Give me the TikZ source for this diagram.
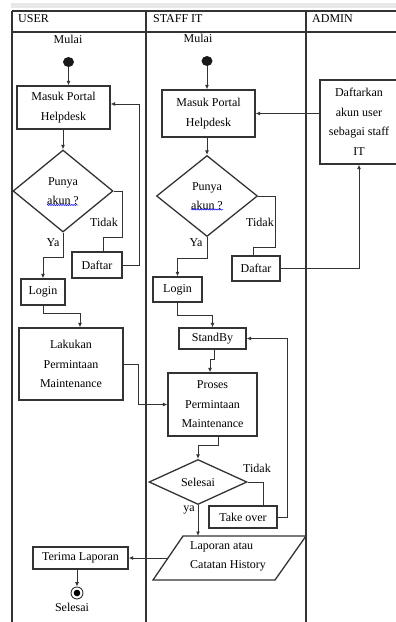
\documentclass[tikz,border=0pt]{standalone}
\usepackage{fontspec}
\setmainfont{Liberation Serif}
\usetikzlibrary{shapes.geometric,arrows.meta,decorations.pathmorphing,calc}
\definecolor{ink}{HTML}{333333}
\begin{document}
\begin{tikzpicture}[x=1pt,y=-1pt,
  every node/.style={font=\fontsize{12}{19.5}\selectfont, text=black, inner sep=0pt},
  box/.style={draw=ink, line width=1.3pt, align=center},
  dia/.style={diamond, draw=ink, line width=1.3pt, align=center},
  outline/.style={draw=ink, line width=1.3pt},
  lane/.style={draw=ink, line width=1.3pt},
  conn/.style={draw=ink, line width=0.9pt},
  arr/.style={conn, -{Latex[length=4.5pt,width=4pt]}},
  startdot/.style={ellipse, fill=black!90, minimum width=11, minimum height=10},
  wavy/.style={draw=blue, line width=0.5pt, decorate, decoration={snake, amplitude=0.6pt, segment length=2.2pt}}
]
\useasboundingbox (0,0) rectangle (396,622);
\clip (0,0) rectangle (396,622);
\fill[gray!18] (11,2.5) rectangle (396,8);
% swimlanes
\draw[lane] (12,11) -- (396,11);
\draw[lane, line width=1.8pt] (12,32) -- (396,32);
\draw[lane] (12,11) -- (12,622);
\draw[lane] (146,11) -- (146,622);
\draw[lane] (306,11) -- (306,622);
\node[anchor=base west] (h_user) at (18,22) {USER};
\node[anchor=base west] (h_staff) at (153,22) {STAFF IT};
\node[anchor=base west] (h_admin) at (312,22) {ADMIN};

% USER
\node (u_mulai) at (68,39) {Mulai};
\node[startdot] (u_start) at (68.5,62) {};
\node[box, minimum width=93, minimum height=43] (u_portal) at (63.5,107.5) {Masuk Portal\\Helpdesk};
\node[dia, minimum width=100, minimum height=82] (u_dec) at (63,191) {Punya\\akun ?};
\draw[wavy] ([shift={(-16,14)}]u_dec.center) -- ([shift={(15,14)}]u_dec.center);
\node[box, minimum width=50, minimum height=26] (u_daftar) at (97,265) {Daftar};
\node[box, minimum width=44, minimum height=26] (u_login) at (43,292) {Login};
\node[box, minimum width=104, minimum height=72] (u_req) at (71,364) {Lakukan\\Permintaan\\Maintenance};
\node[box, minimum width=95, minimum height=22] (u_recv) at (80.5,558) {Terima Laporan};
\node[circle, draw=ink, line width=0.9pt, minimum size=12] (u_end) at (77,593) {};
\fill[black] (u_end.center) circle (3.3);
\node (u_selesai) at (72,607) {Selesai};
\node (u_tidak) at (104,222) {Tidak};
\node (u_ya) at (53,243) {Ya};

% STAFF IT
\node (s_mulai) at (198,38) {Mulai};
\node[startdot] (s_start) at (207,61) {};
\node[box, minimum width=93, minimum height=47] (s_portal) at (208.5,113.5) {Masuk Portal\\Helpdesk};
\node[dia, minimum width=101, minimum height=81] (s_dec) at (207,196) {Punya\\akun ?};
\draw[wavy] ([shift={(-16,13.5)}]s_dec.center) -- ([shift={(16,13.5)}]s_dec.center);
\node[box, minimum width=48, minimum height=25] (s_daftar) at (256,268.5) {Daftar};
\node[box, minimum width=49, minimum height=25] (s_login) at (177.5,289.5) {Login};
\node[box, minimum width=67, minimum height=21] (s_stand) at (212.5,338.5) {StandBy};
\node[box, minimum width=89, minimum height=63] (s_proc) at (212.5,404.5) {Proses\\Permintaan\\Maintenance};
\node[dia, minimum width=98, minimum height=45, aspect=2.2] (s_sel) at (198,482) {Selesai};
\node[box, minimum width=68, minimum height=22] (s_take) at (243,517) {Take over};
\coordinate (p1) at (183,536);
\coordinate (p2) at (306,536);
\coordinate (p3) at (275,580);
\coordinate (p4) at (153,580);
\draw[outline] (p1) -- (p2) -- (p3) -- (p4) -- cycle;
\coordinate (pm) at ($(p1)!0.5!(p4)$);
\node[anchor=west, align=left] (s_rep) at (190,556.5) {Laporan atau\\Catatan History};
\node (s_tidak) at (260,222) {Tidak};
\node (s_ya) at (196,243) {Ya};
\node (s_tidak2) at (257,468) {Tidak};
\node (s_ya2) at (189,510) {ya};

% ADMIN
\node[box, minimum width=78, minimum height=84] (a_reg) at (359,122) {Daftarkan\\akun user\\sebagai staff\\IT};

% connectors USER
\draw[arr] (u_start) -- (u_start |- u_portal.north);
\draw[arr] (u_dec.north |- u_portal.south) -- (u_dec.north);
\draw[conn] (u_dec.east) -| (122,237) -| (103,0 |- u_daftar.north);
\draw[arr] (u_daftar.east) -| (139,104) -- (u_portal.east |- 139,104);
\draw[arr] (u_dec.south) -- ++(0,25) -| (u_login.north);
\draw[arr] (u_login.south) |- (80,313) -- (80,0 |- u_req.north);
\draw[arr] (u_req.east) -- (138,364) |- (s_proc.west);

% connectors STAFF IT
\draw[arr] (s_start) -- (s_start |- s_portal.north);
\draw[arr] (a_reg.west |- s_portal.east) -- (s_portal.east);
\draw[arr] (s_dec.north |- s_portal.south) -- (s_dec.north);
\draw[conn] (s_dec.east) -| (275,247) -| (253,0 |- s_daftar.north);
\draw[arr] (s_daftar.east) -| (a_reg.south);
\draw[arr] (s_dec.south) -- ++(0,21) -| (s_login.north);
\draw[arr] (s_login.south) |- (s_stand.north |- 0,315) -- (s_stand.north);
\draw[arr] ([xshift=1.5]s_stand.south) -- ++(0,10) -| ([xshift=-2.5]s_proc.north);
\draw[arr] ([xshift=5.5]s_proc.south) -- ++(0,9) -| (s_sel.north);
\draw[conn] (s_sel.east) -| (263,0 |- s_take.north);
\draw[arr] (s_take.east) -| (287,0 |- s_stand.east) -- (s_stand.east);
\draw[arr] (s_sel.south) -- (s_sel.south |- p1);
\draw[arr] (pm) -- (u_recv.east);
\draw[arr] (u_recv.south -| u_end.north) -- (u_end.north);
\end{tikzpicture}
\end{document}
